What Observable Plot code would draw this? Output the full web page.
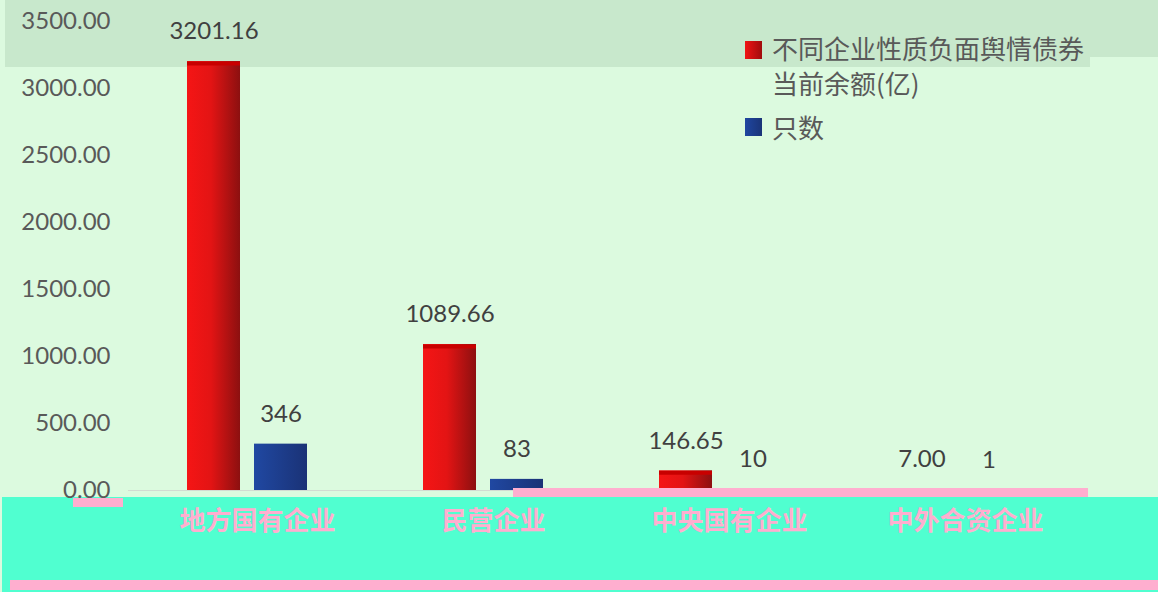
<!DOCTYPE html>
<html><head><meta charset="utf-8">
<script src="https://cdn.jsdelivr.net/npm/d3@7"></script>
<script src="https://cdn.jsdelivr.net/npm/@observablehq/plot@0.6"></script>
<style>
body{margin:0;background:#dcfadf;}
#wrap{position:relative;width:1158px;height:592px;overflow:hidden;background:#dcfadf;}
.blk{position:absolute;}
#chart{position:absolute;left:0;top:0;}
.lg{position:absolute;font-family:"Noto Sans CJK SC",sans-serif;font-size:26px;color:#595959;line-height:35px;white-space:nowrap;}
.sw{position:absolute;width:17px;height:18px;}
</style></head><body>
<div id="wrap">
  <div class="blk" style="left:5px;top:0;width:1085px;height:67px;background:#c8e8cc"></div>
  <div class="blk" style="left:1090px;top:0;width:68px;height:57px;background:#c8e8cc"></div>
  <div class="blk" style="left:2px;top:497px;width:1156px;height:95px;background:#50ffd0"></div>
  <div id="chart"></div>
  <div class="blk" style="left:513px;top:488px;width:575px;height:9px;background:#ffaecf"></div>
  <div class="blk" style="left:73px;top:498px;width:50px;height:9px;background:#ffaecf"></div>
  <div class="blk" style="left:10px;top:580px;width:1148px;height:10px;background:#ffaecf"></div>
  <div class="sw" style="left:745px;top:41px;background:linear-gradient(90deg,#f01414,#a00c0c)"></div>
  <div class="lg" style="left:772px;top:30px">不同企业性质负面舆情债券<br>当前余额(亿)</div>
  <div class="sw" style="left:745px;top:118px;background:linear-gradient(90deg,#1f46a0,#1a3478)"></div>
  <div class="lg" style="left:772px;top:109px">只数</div>
</div>
<script>
const categories = ["地方国有企业", "民营企业", "中央国有企业", "中外合资企业"];
const balance = [3201.16, 1089.66, 146.65, 7.00];
const counts = [346, 83, 10, 1];
const yTicks = [0, 500, 1000, 1500, 2000, 2500, 3000, 3500];

const rows = categories.map((c, i) => ({category: c, balance: balance[i], count: counts[i]}));

const plot = Plot.plot({
  width: 1158, height: 592,
  marginLeft: 128, marginRight: 85, marginTop: 21, marginBottom: 102,
  style: {background: "transparent", fontFamily: "Lato, 'Noto Sans CJK SC', sans-serif", color: "#595959", overflow: "visible"},
  x: {domain: categories, padding: 0, axis: null},
  y: {domain: [0, 3500], axis: null},
  marks: [
    Plot.ruleY([0], {stroke: "#d2dcd2"}),
    Plot.axisY({ticks: yTicks, tickFormat: d3.format(".2f"), tickSize: 0, tickPadding: 18, fontSize: 24, fill: "#595959", label: null}),
    Plot.barY(rows, {x: "category", y: "balance", fill: "url(#gradRed)", insetLeft: 58, insetRight: 125}),
    Plot.tickY(rows, {x: "category", y: "balance", stroke: "#c80000", strokeWidth: 4, insetLeft: 58, insetRight: 125, dy: 2}),
    Plot.barY(rows, {x: "category", y: "count", fill: "url(#gradBlue)", insetLeft: 125, insetRight: 58}),
    Plot.text(rows, {x: "category", y: "balance", text: d => d3.format(".2f")(d.balance), dx: -33.5, dy: -30, fontSize: 24, fill: "#404040"}),
    Plot.text(rows, {x: "category", y: "count", text: d => String(d.count), dx: 33.5, dy: -30, fontSize: 24, fill: "#404040"}),
    Plot.axisX({tickSize: 0, tickPadding: 21, fontSize: 26, fontWeight: "bold", fill: "#ffaecf", stroke: "#ffaecf", strokeWidth: 8, strokeLinejoin: "miter", dx: 10, label: null, fontFamily: "'Noto Sans CJK SC', sans-serif"})
  ]
});

const svgNS = "http://www.w3.org/2000/svg";
const defs = document.createElementNS(svgNS, "defs");
defs.innerHTML = `
<linearGradient id="gradRed" x1="0" x2="1" y1="0" y2="0">
  <stop offset="0" stop-color="#f51515"/><stop offset="0.45" stop-color="#e31414"/><stop offset="1" stop-color="#8c1010"/>
</linearGradient>
<linearGradient id="gradBlue" x1="0" x2="1" y1="0" y2="0">
  <stop offset="0" stop-color="#2048a2"/><stop offset="1" stop-color="#1a3276"/>
</linearGradient>`;
plot.insertBefore(defs, plot.firstChild);
document.getElementById("chart").appendChild(plot);
</script>
</body></html>
